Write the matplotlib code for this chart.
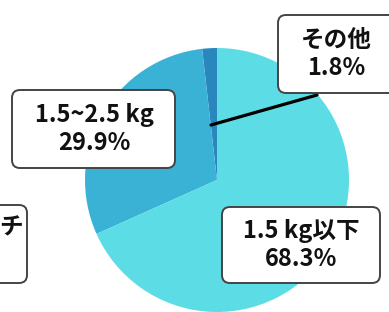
import matplotlib.pyplot as plt
from matplotlib.patches import FancyBboxPatch

plt.rcParams['font.family'] = ['Noto Sans CJK JP', 'DejaVu Sans']

# data (counterclockwise from the top)
labels = ['その他', '1.5~2.5 kg', '1.5 kg以下']
shares = [1.8, 29.9, 68.3]
colors = ['#2A87BE', '#3AB2D6', '#5CDCE4']

W, H = 389, 312
fig = plt.figure(figsize=(W / 100, H / 100), dpi=100)
ax = fig.add_axes([0, 0, 1, 1])

# pie, centred low so that it runs off the bottom edge
ax.pie(shares, colors=colors, startangle=90, counterclock=True,
       center=(217, 132), radius=132, frame=True,
       wedgeprops=dict(linewidth=0))
ax.set_xlim(0, W)
ax.set_ylim(0, H)
ax.axis('off')

# leader line for the small slice
ax.plot([211, 317], [187, 217], color='black', lw=2.3, solid_capstyle='round', zorder=3)


def label_box(x0, y0, x1, y1, text, tx, ty, ha='center'):
    # coords given from the top of the picture
    box = FancyBboxPatch((x0, H - y1), x1 - x0, y1 - y0,
                         boxstyle='round,pad=0,rounding_size=8',
                         fc='white', ec='#444444', lw=1.4, zorder=4)
    ax.add_patch(box)
    ax.text(tx, H - ty, text, ha=ha, va='center', fontsize=17,
            fontweight='bold', linespacing=1.2, color='#111111', zorder=5)


label_box(12, 90, 175, 168, f'{labels[1]}\n{shares[1]}%', 94, 129)
label_box(278, 15, 400, 93, f'{labels[0]}\n{shares[0]}%', 336, 54)
label_box(222, 207, 380, 283, f'{labels[2]}\n{shares[2]}%', 301, 245)
# partly visible box at the left edge
label_box(-80, 205, 27, 283, 'チ', 23, 227, ha='right')

fig.savefig('out.png', dpi=100)
